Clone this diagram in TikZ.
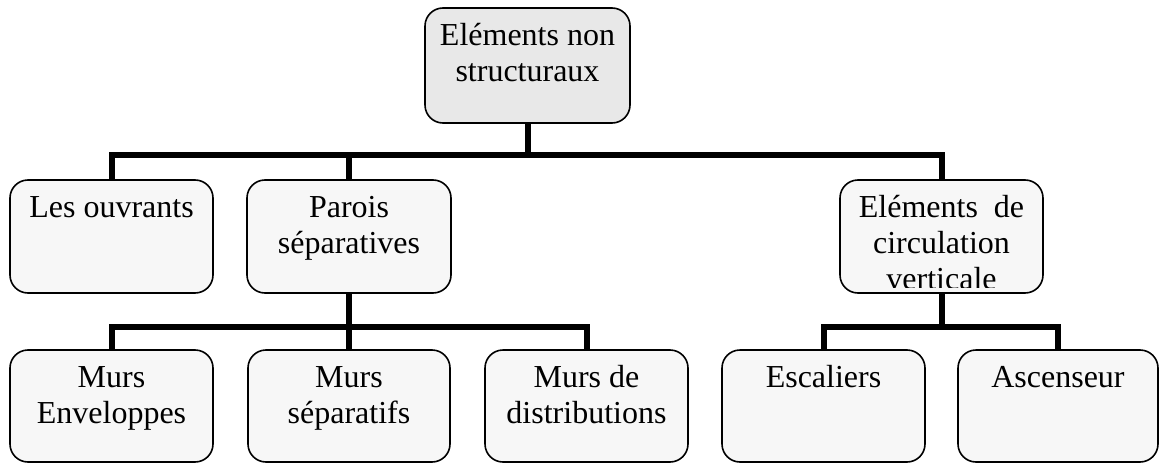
\documentclass[tikz,border=0pt]{standalone}
\usepackage{fontspec}
\setmainfont{Liberation Serif}
\usetikzlibrary{calc}
\definecolor{topfill}{HTML}{E8E8E8}
\definecolor{boxfill}{HTML}{F7F7F7}
\tikzset{
  orgbox/.style={draw=black, line width=1.6pt, rounded corners=18pt, fill=boxfill,
    inner sep=0pt, outer sep=0pt},
  topbox/.style={orgbox, fill=topfill},
  lbl/.style={anchor=north, inner sep=0pt, align=center,
    font=\fontsize{32}{36}\selectfont},
  conn/.style={draw=black, line width=6pt, line join=miter}
}
\begin{document}
\begin{tikzpicture}[x=1pt, y=-1pt]
\useasboundingbox (0,0) rectangle (1160,463);

% boxes
\node[topbox, minimum width=205pt, minimum height=115pt] (n0) at (527.5,65.5) {};
\node[orgbox, minimum width=203pt, minimum height=113pt] (n1) at (111.5,236.5) {};
\node[orgbox, minimum width=204pt, minimum height=113pt] (n2) at (349,236.5) {};
\node[orgbox, minimum width=203pt, minimum height=113pt] (n3) at (941.5,236.5) {};
\node[orgbox, minimum width=203pt, minimum height=112pt] (m1) at (111.5,406) {};
\node[orgbox, minimum width=202pt, minimum height=112pt] (m2) at (349,406) {};
\node[orgbox, minimum width=203pt, minimum height=112pt] (m3) at (586.5,406) {};
\node[orgbox, minimum width=203pt, minimum height=112pt] (m4) at (823.5,406) {};
\node[orgbox, minimum width=200pt, minimum height=112pt] (m5) at (1058,406) {};

% labels, set from the top of each box
\node[lbl] (t0) at ($(n0.north)+(0,11.8)$) {\strut Eléments non\\structuraux};
\node[lbl] (t1) at ($(n1.north)+(0,11.8)$) {\strut Les ouvrants};
\node[lbl] (t2) at ($(n2.north)+(0,11.8)$) {\strut Parois\\séparatives};
\begin{scope}
  \clip ($(n3.north west)+(2,2)$) rectangle ($(n3.south east)+(-2,-6)$);
  \node[lbl] (t3) at ($(n3.north)+(0,11.8)$) {\strut Eléments\ \ de\\circulation\\verticale};
\end{scope}
\node[lbl] (u1) at ($(m1.north)+(0,11.8)$) {\strut Murs\\Enveloppes};
\node[lbl] (u2) at ($(m2.north)+(0,11.8)$) {\strut Murs\\séparatifs};
\node[lbl] (u3) at ($(m3.north)+(0,11.8)$) {\strut Murs de\\distributions};
\node[lbl] (u4) at ($(m4.north)+(0,11.8)$) {\strut Escaliers};
\node[lbl] (u5) at ($(m5.north)+(0,11.8)$) {\strut Ascenseur};

% bar levels
\coordinate (b0) at (527.5,155);
\coordinate (b1) at (349,327);
\coordinate (b2) at (941.5,327);

% connectors
\draw[conn] (n1.north) -- (n1.north |- b0) -- (n3.north |- b0) -- (n3.north);
\draw[conn] (n0.south) -- (n0.south |- b0);
\draw[conn] (n2.north |- b0) -- (n2.north);

\draw[conn] (m1.north) -- (m1.north |- b1) -- (m3.north |- b1) -- (m3.north);
\draw[conn] (n2.south) -- (m2.north);

\draw[conn] (m4.north) -- (m4.north |- b2) -- (m5.north |- b2) -- (m5.north);
\draw[conn] (n3.south) -- (n3.south |- b2);
\end{tikzpicture}
\end{document}
